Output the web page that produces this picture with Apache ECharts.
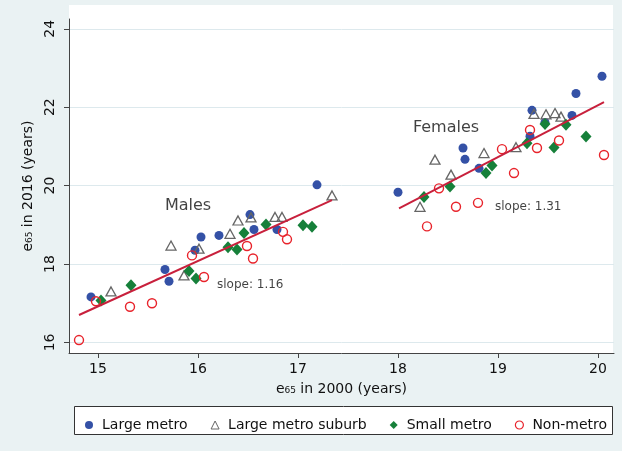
<!DOCTYPE html>
<html>
<head>
<meta charset="utf-8">
<script src="https://cdn.jsdelivr.net/npm/echarts@6/dist/echarts.min.js"></script>
<style>
  html, body { margin: 0; padding: 0; background: #eaf2f3; }
  #main { width: 622px; height: 451px; }
</style>
</head>
<body>
<div id="main"></div>
<script>
// e65 in 2000 (x) vs e65 in 2016 (y), males then females
var largeMetro = [
  [14.93, 17.16], [15.67, 17.86], [15.71, 17.56], [15.97, 18.35], [16.03, 18.69],
  [16.21, 18.73], [16.52, 19.26], [16.56, 18.88], [16.79, 18.88], [17.19, 20.02],
  [18.00, 19.83], [18.65, 20.96], [18.67, 20.67], [18.81, 20.44], [19.32, 21.26],
  [19.34, 21.92], [19.47, 21.61], [19.74, 21.79], [19.78, 22.35], [20.04, 22.79]
];
var largeMetroSuburb = [
  [15.13, 17.30], [15.73, 18.47], [15.86, 17.71], [16.01, 18.39], [16.32, 18.77],
  [16.40, 19.11], [16.53, 19.19], [16.77, 19.20], [16.84, 19.20], [17.34, 19.75],
  [18.22, 19.46], [18.37, 20.66], [18.53, 20.28], [18.86, 20.83], [19.18, 20.98],
  [19.36, 21.83], [19.48, 21.82], [19.57, 21.85], [19.63, 21.76]
];
var smallMetro = [
  [15.03, 17.07], [15.33, 17.46], [15.91, 17.82], [15.98, 17.63], [16.30, 18.43],
  [16.39, 18.37], [16.46, 18.79], [16.68, 19.01], [17.05, 18.99], [17.14, 18.95],
  [18.26, 19.71], [18.52, 19.98], [18.88, 20.32], [18.94, 20.51], [19.29, 21.08],
  [19.47, 21.57], [19.56, 20.97], [19.68, 21.55], [19.88, 21.25]
];
var nonMetro = [
  [14.81, 16.06], [14.98, 17.05], [15.32, 16.91], [15.54, 17.00], [15.94, 18.22],
  [16.06, 17.67], [16.49, 18.46], [16.55, 18.14], [16.85, 18.82], [16.89, 18.63],
  [18.29, 18.96], [18.41, 19.93], [18.58, 19.46], [18.80, 19.56], [19.04, 20.93],
  [19.16, 20.32], [19.32, 21.42], [19.39, 20.96], [19.61, 21.15], [20.06, 20.78]
];
var maleFit = [[14.81, 16.70], [17.34, 19.63]];
var femaleFit = [[18.01, 19.42], [20.06, 22.13]];
var xTicks = [15, 16, 17, 18, 19, 20];
var yTicks = [16, 18, 20, 22, 24];
var notes = [
  { name: 'Males', value: [15.90, 19.48], size: 16, align: 'center' },
  { name: 'Females', value: [18.48, 21.47], size: 16, align: 'center' },
  { name: 'slope: 1.16', value: [16.19, 17.46], size: 12, align: 'left' },
  { name: 'slope: 1.31', value: [18.97, 19.47], size: 12, align: 'left' }
];

var font = 'DejaVu Sans';
var blue = '#3451a6', gray = '#666', green = '#16803a', red = '#e8232b';
var chart = echarts.init(document.getElementById('main'));

var option = {
  backgroundColor: '#eaf2f3',
  textStyle: { fontFamily: font },
  grid: { left: 69, top: 19, right: 8, bottom: 98 },
  graphic: [
    {
      // white plot region
      type: 'rect', z: -10, silent: true,
      shape: { x: 69, y: 5, width: 544, height: 348 },
      style: { fill: '#fff' }
    },
    {
      // legend frame
      type: 'rect', z: -10, silent: true,
      shape: { x: 74.5, y: 406.5, width: 538, height: 28 },
      style: { fill: '#fff', stroke: '#333', lineWidth: 1 }
    }
  ],
  legend: {
    data: [
      { name: 'Large metro', icon: 'circle', itemStyle: { color: blue, borderWidth: 0 } },
      { name: 'Large metro suburb', icon: 'triangle', itemStyle: { color: '#fff', borderColor: gray, borderWidth: 1 } },
      { name: 'Small metro', icon: 'diamond', itemStyle: { color: green, borderWidth: 0 } },
      { name: 'Non-metro', icon: 'circle', itemStyle: { color: '#fff', borderColor: red, borderWidth: 1.2 } }
    ],
    left: 80, top: 413,
    itemWidth: 8, itemHeight: 8, itemGap: 23,
    textStyle: { fontSize: 14, color: '#111', fontFamily: font, padding: [0, 0, 0, 4] }
  },
  xAxis: {
    type: 'value', min: 14.71, max: 20.16,
    name: 'e₆₅ in 2000 (years)', nameLocation: 'middle', nameGap: 29,
    nameTextStyle: { fontSize: 14, color: '#111' },
    axisLine: { lineStyle: { color: '#444' } },
    axisTick: { length: 5, lineStyle: { color: '#444' }, customValues: xTicks },
    axisLabel: { fontSize: 14, color: '#111', margin: 9, customValues: xTicks },
    splitLine: { show: false }
  },
  yAxis: {
    type: 'value', min: 15.73, max: 24.25,
    name: 'e₆₅ in 2016 (years)', nameLocation: 'middle', nameGap: 28, nameRotate: 90,
    nameTextStyle: { fontSize: 14, color: '#111' },
    axisLine: { show: true, lineStyle: { color: '#444' } },
    axisTick: { show: true, length: 5, lineStyle: { color: '#444' }, customValues: yTicks },
    axisLabel: { fontSize: 14, color: '#111', margin: 12, rotate: 90, customValues: yTicks },
    splitLine: { show: true, lineStyle: { color: '#dde9ed' } }
  },
  series: [
    {
      name: 'Large metro', type: 'scatter', data: largeMetro,
      symbol: 'circle', symbolSize: 9,
      itemStyle: { color: blue, opacity: 1 }
    },
    {
      name: 'Large metro suburb', type: 'scatter', data: largeMetroSuburb,
      symbol: 'triangle', symbolSize: [10, 9],
      itemStyle: { color: 'rgba(0,0,0,0)', borderColor: gray, borderWidth: 1.3, opacity: 1 }
    },
    {
      name: 'Small metro', type: 'scatter', data: smallMetro,
      symbol: 'diamond', symbolSize: [11, 12],
      itemStyle: { color: green, opacity: 1 }
    },
    {
      name: 'Non-metro', type: 'scatter', data: nonMetro,
      symbol: 'circle', symbolSize: 9,
      itemStyle: { color: 'rgba(0,0,0,0)', borderColor: red, borderWidth: 1.4, opacity: 1 }
    },
    {
      name: 'male fit', type: 'line', data: maleFit, showSymbol: false, silent: true,
      lineStyle: { color: '#c8203c', width: 2 }
    },
    {
      name: 'female fit', type: 'line', data: femaleFit, showSymbol: false, silent: true,
      lineStyle: { color: '#c8203c', width: 2 }
    },
    {
      name: 'notes', type: 'scatter', symbolSize: 0, silent: true,
      data: notes.map(function (n) {
        return {
          name: n.name, value: n.value,
          label: {
            show: true, position: 'inside', formatter: '{b}',
            fontSize: n.size, color: '#111', align: n.align, fontFamily: font
          }
        };
      })
    }
  ]
};

chart.setOption(option);
</script>
</body>
</html>
